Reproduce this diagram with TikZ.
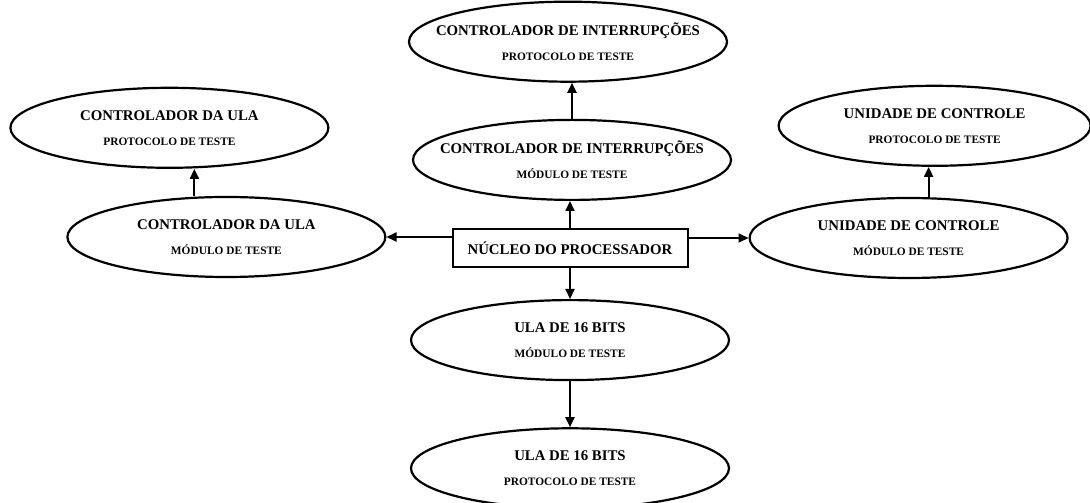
\documentclass[tikz,border=0pt]{standalone}
\usepackage{fontspec}
\setmainfont{Liberation Serif}
\usetikzlibrary{positioning,arrows.meta,shapes.geometric}
\tikzset{
  node-box/.style={draw,line width=2pt,minimum width=235pt,minimum height=38pt,
    inner sep=0pt,font=\bfseries\fontsize{14.8}{18}\selectfont},
  % elipse de tamanho fixo: inner xsep negativo para o texto não alargar a forma
  node-elipse/.style={draw,ellipse,line width=2.2pt,minimum width=318pt,minimum height=80pt,
    inner xsep=-30pt,inner ysep=0pt,align=center,font=\bfseries\fontsize{14.8}{25}\selectfont},
  arrow/.style={-{Triangle[length=10pt,width=9pt]},line width=2pt},
}
\newcommand{\rotulo}[2]{#1\\{\fontsize{11.4}{14}\selectfont #2}}

\begin{document}
\begin{tikzpicture}[x=1pt,y=1pt]
  \useasboundingbox (0,0) rectangle (1090,503);
  \node[node-box]                                         (nucleo)  at (570,255) {NÚCLEO DO PROCESSADOR};
  \node[node-elipse,above=27pt of nucleo,xshift=2pt]      (intMod)  {\rotulo{CONTROLADOR DE INTERRUPÇÕES}{MÓDULO DE TESTE}};
  \node[node-elipse,above=36pt of intMod,xshift=-4pt]     (intProt) {\rotulo{CONTROLADOR DE INTERRUPÇÕES}{PROTOCOLO DE TESTE}};
  \node[node-elipse,below=31pt of nucleo]                 (ulaMod16)  {\rotulo{ULA DE 16 BITS}{MÓDULO DE TESTE}};
  \node[node-elipse,below=46pt of ulaMod16]               (ulaProt16) {\rotulo{ULA DE 16 BITS}{PROTOCOLO DE TESTE}};
  \node[node-elipse,left=65pt of nucleo,yshift=11pt]      (ulaMod)  {\rotulo{CONTROLADOR DA ULA}{MÓDULO DE TESTE}};
  \node[node-elipse,above=27pt of ulaMod,xshift=-57pt]    (ulaProt) {\rotulo{CONTROLADOR DA ULA}{PROTOCOLO DE TESTE}};
  \node[node-elipse,right=60pt of nucleo,yshift=10pt]     (ucMod)   {\rotulo{UNIDADE DE CONTROLE}{MÓDULO DE TESTE}};
  \node[node-elipse,above=30pt of ucMod,xshift=26pt,minimum width=312pt] (ucProt) {\rotulo{UNIDADE DE CONTROLE}{PROTOCOLO DE TESTE}};
  \draw[arrow] (nucleo.north) -- (nucleo.north |- intMod.south);
  \draw[arrow] (intMod.north) -- (intMod.north |- intProt.south);
  \draw[arrow] (nucleo.south) -- (ulaMod16.north);
  \draw[arrow] (ulaMod16.south) -- (ulaProt16.north);
  \draw[arrow] (nucleo.west |- ulaMod.east) -- (ulaMod.east);
  \draw[arrow] (nucleo.east |- ucMod.west) -- (ucMod.west);
  \draw[arrow] ([xshift=-32pt]ulaMod.north) -- ([xshift=-32pt]ulaMod.north |- ulaProt.south);
  \draw[arrow] ([xshift=20pt]ucMod.north) -- ([xshift=20pt]ucMod.north |- ucProt.south);
\end{tikzpicture}
\end{document}
